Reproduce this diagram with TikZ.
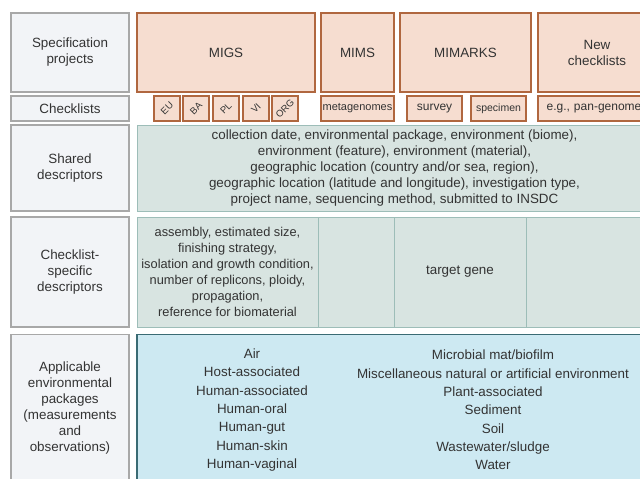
\documentclass[tikz,border=0pt]{standalone}
\usepackage{fontspec}
\setmainfont{Liberation Sans}
\usepackage{tikz}
\definecolor{rowfill}{HTML}{F2F4F7}
\definecolor{rowdraw}{HTML}{A8A8A8}
\definecolor{specfill}{HTML}{F6DDD0}
\definecolor{specdraw}{HTML}{B0673F}
\definecolor{sharedfill}{HTML}{D8E4E1}
\definecolor{shareddraw}{HTML}{9DBDB8}
\definecolor{envfill}{HTML}{CDE9F2}
\definecolor{envdraw}{HTML}{3A6B74}
\definecolor{txt}{HTML}{333333}
\tikzstyle{rowlabel} = [rectangle, minimum width=118pt, text width=114pt, align=center, draw=rowdraw, fill=rowfill, line width=1.3pt, inner sep=0pt, text=txt]
\tikzstyle{project} = [rectangle, minimum height=79pt, align=center, draw=specdraw, fill=specfill, line width=1.3pt, inner sep=0pt, text=txt]
\tikzstyle{checklist} = [rectangle, minimum height=25pt, align=center, draw=specdraw, fill=specfill, line width=1.3pt, inner sep=0pt, text=txt, font=\fontsize{10.5}{12}\selectfont]
\tikzstyle{shared} = [rectangle, align=center, draw=shareddraw, fill=sharedfill, line width=1pt, inner sep=0pt, text=txt]
\tikzstyle{envbox} = [rectangle, align=center, draw=envdraw, fill=envfill, line width=1.3pt, inner sep=0pt, text=txt]

\begin{document}
\begin{tikzpicture}[x=1pt, y=-1pt, font=\fontsize{13.4}{16}\selectfont]
\useasboundingbox (0,0) rectangle (640,479);
\clip (0,0) rectangle (640,479);
\fill[white] (0,0) rectangle (640,479);

% Row labels
\node (specrow) [rowlabel, minimum height=79pt] at (70,52.5) {Specification\\projects};
\node (listrow) [rowlabel, minimum height=25pt] at (70,108.5) {Checklists};
\node (sharedrow) [rowlabel, minimum height=86pt] at (70,168) {Shared\\descriptors};
\node (specificrow) [rowlabel, minimum height=110pt] at (70,272) {Checklist-\\specific\\descriptors};
\node (envrow) [rowlabel, minimum height=161pt, anchor=north] at (70,334) {};
\node (envlabel) [text=txt, align=center] at (70,408) {Applicable\\environmental\\packages\\(measurements\\and\\observations)};

% Specification projects
\node (migs) [project, minimum width=178pt] at (226,52.5) {MIGS};
\node (mims) [project, minimum width=73pt] at (357.5,52.5) {MIMS};
\node (mimarks) [project, minimum width=131pt] at (465.5,52.5) {MIMARKS};
\node (newlists) [project, minimum width=118pt] at (597,52.5) {New\\checklists};

% Checklists
\foreach \name/\x in {EU/167, BA/196, PL/226, VI/256, ORG/285}
  \node (\name) [checklist, minimum width=26pt, font=\fontsize{9.5}{11}\selectfont] at (\x,108.5) {\rotatebox{45}{\name}};
\node (metagenomes) [checklist, minimum width=73pt, font=\fontsize{11}{12}\selectfont] at (357.5,108.5) {metagenomes};
\node (survey) [checklist, minimum width=55pt, font=\fontsize{12}{13}\selectfont] at (434.5,108.5) {survey};
\node (specimen) [checklist, minimum width=55pt] at (498.5,108.5) {specimen};
\node (pangenomes) [checklist, minimum width=118pt, font=\fontsize{12}{13}\selectfont, text width=112pt] at (597,108.5) {e.g., pan-genomes};

% Shared descriptors
\node (common) [shared, minimum width=515pt, minimum height=86pt] at (394.5,168) {collection date, environmental package, environment (biome),\\environment (feature), environment (material),\\geographic location (country and/or sea, region),\\geographic location (latitude and longitude), investigation type,\\project name, sequencing method, submitted to INSDC};

% Checklist-specific descriptors
\node (migsspec) [shared, minimum width=181pt, minimum height=110pt, font=\fontsize{12.8}{16}\selectfont] at (227.5,272) {assembly, estimated size,\\finishing strategy,\\isolation and growth condition,\\number of replicons, ploidy,\\propagation,\\reference for biomaterial};
\node (mimsspec) [shared, minimum width=76pt, minimum height=110pt] at (356,272) {};
\node (mimarksspec) [shared, minimum width=132pt, minimum height=110pt] at (460,272) {target gene};
\node (newspec) [shared, minimum width=130pt, minimum height=110pt] at (591,272) {};

% Environmental packages
\node (envpack) [envbox, minimum width=519pt, minimum height=161pt, anchor=north] at (396.5,334) {};
\node (envleft) [text=txt, align=center, font=\fontsize{13.4}{18.3}\selectfont] at (252,410) {Air\\Host-associated\\Human-associated\\Human-oral\\Human-gut\\Human-skin\\Human-vaginal};
\node (envright) [text=txt, align=center, font=\fontsize{13.4}{18.3}\selectfont] at (493,410) {Microbial mat/biofilm\\Miscellaneous natural or artificial environment\\Plant-associated\\Sediment\\Soil\\Wastewater/sludge\\Water};

\end{tikzpicture}
\end{document}
